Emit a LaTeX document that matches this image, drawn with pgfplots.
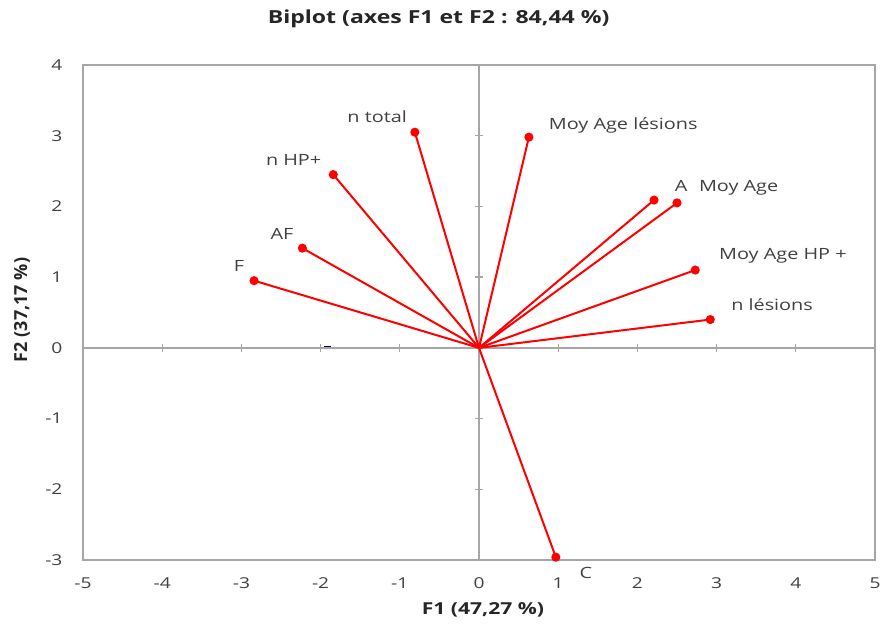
\documentclass[border=0pt]{standalone}
\usepackage{pgfplots}
\pgfplotsset{compat=1.18}
\usepackage{fontspec}
\setmainfont[FakeStretch=1.28]{Open Sans}
\newfontfamily\plainfont{Open Sans}
\definecolor{txt}{HTML}{404040}
\definecolor{frame}{HTML}{A6A6A6}
\pgfplotsset{
  vec/.style={red, line width=2pt, mark=*, mark size=3.5pt, mark repeat=2, mark phase=2, mark options={solid, fill=red}},
}
\tikzset{lab/.style={font=\fontsize{15.5}{18}\selectfont, text=txt, inner sep=0pt}}
\begin{document}
\begin{tikzpicture}
\useasboundingbox (-83pt,-74pt) rectangle (799pt,560pt);
% central axes with cross ticks
\begin{axis}[
  at={(0,0)}, anchor=south west,
  scale only axis, width=792pt, height=495pt,
  xmin=-5, xmax=5, ymin=-3, ymax=4,
  axis lines=middle,
  axis line style={-, draw=frame, line width=1.3pt},
  xtick={-4,-3,-2,-1,1,2,3,4}, ytick={-2,-1,1,2,3},
  xticklabels={}, yticklabels={},
  tick align=center, major tick length=8pt,
  tick style={draw=frame, line width=1.3pt},
]
\end{axis}
\begin{axis}[
  at={(0,0)}, anchor=south west,
  scale only axis, width=792pt, height=495pt,
  xmin=-5, xmax=5, ymin=-3, ymax=4,
  axis line style={draw=frame, line width=1.3pt},
  xtick={-5,-4,...,5}, ytick={-3,-2,...,4},
  major tick length=0pt,
  tick style={draw=none},
  /pgf/number format/assume math mode=true,
  ticklabel style={font=\fontsize{15}{17}\selectfont, text=txt},
  xticklabel style={anchor=center, yshift=-23pt},
  yticklabel style={anchor=east, xshift=-17pt},
  title={Biplot (axes F1 et F2 : 84,44 \%)},
  title style={at={(axis description cs:0.449,1.055)}, anchor=south, font=\fontsize{18}{21}\selectfont\bfseries, text=black!85},
  xlabel={F1 (47,27 \%)},
  xlabel style={at={(axis description cs:0.505,-0.1)}, anchor=center, font=\fontsize{16.5}{19}\selectfont\bfseries, text=black!85},
  ylabel={F2 (37,17 \%)},
  ylabel style={at={(axis description cs:-0.077,0.505)}, anchor=center, font=\plainfont\fontsize{18}{21}\selectfont\bfseries, text=black!85},
  clip=false,
]
\addplot[blue!40!black, line width=1.5pt, mark=none] coordinates {(-1.96,0.02) (-1.87,0.02)};
\addplot[vec] coordinates {(0,0) (-0.81,3.05)} node[lab, pos=1, anchor=east, xshift=-7pt, yshift=15pt] {n total};
\addplot[vec] coordinates {(0,0) (0.63,2.98)} node[lab, pos=1, anchor=west, xshift=19pt, yshift=12pt] {Moy Age lésions};
\addplot[vec] coordinates {(0,0) (-1.84,2.45)} node[lab, pos=1, anchor=east, xshift=-11pt, yshift=15pt] {n HP+};
\addplot[vec] coordinates {(0,0) (2.21,2.09)} node[lab, pos=1, anchor=center, xshift=27pt, yshift=14pt] {A};
\addplot[vec] coordinates {(0,0) (2.50,2.05)} node[lab, pos=1, anchor=west, xshift=21pt, yshift=15pt] {Moy Age};
\addplot[vec] coordinates {(0,0) (-2.23,1.41)} node[lab, pos=1, anchor=east, xshift=-8pt, yshift=14pt] {AF};
\addplot[vec] coordinates {(0,0) (-2.84,0.95)} node[lab, pos=1, anchor=east, xshift=-9pt, yshift=15pt] {F};
\addplot[vec] coordinates {(0,0) (2.73,1.10)} node[lab, pos=1, anchor=west, xshift=23pt, yshift=14pt] {Moy Age HP +};
\addplot[vec] coordinates {(0,0) (2.92,0.40)} node[lab, pos=1, anchor=west, xshift=20pt, yshift=15pt] {n lésions};
\addplot[vec] coordinates {(0,0) (0.97,-2.96)} node[lab, pos=1, anchor=center, xshift=30pt, yshift=-16pt] {C};
\end{axis}
\end{tikzpicture}
\end{document}
